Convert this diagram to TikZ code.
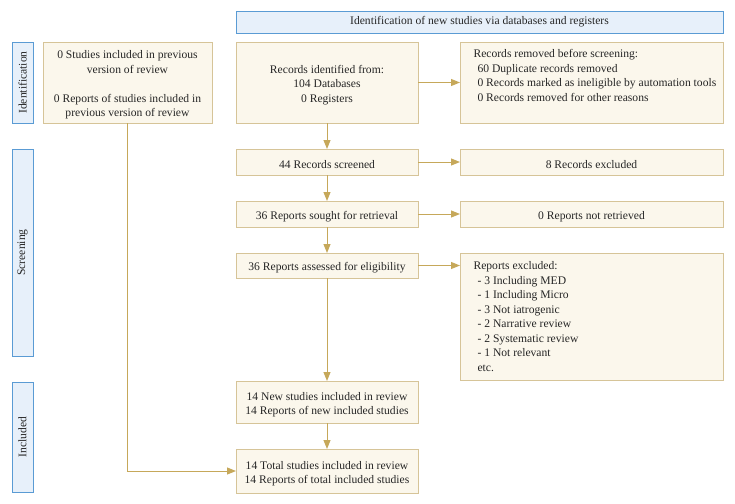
\documentclass[tikz,border=0pt]{standalone}
\usepackage{fontspec}
\setmainfont{Liberation Serif}
\usetikzlibrary{arrows.meta}
\definecolor{boxfill}{HTML}{FBF7EC}
\definecolor{boxline}{HTML}{D6C498}
\definecolor{arr}{HTML}{C6A85A}
\definecolor{bluefill}{HTML}{E7F0FA}
\definecolor{blueline}{HTML}{5A9BD4}
\newcommand{\upstrut}{\rule{0pt}{13pt}}
\tikzset{
  x=1pt, y=-1pt,
  txt/.style={font=\fontsize{11.6}{14.5}\selectfont, text=black!85},
  box/.style={txt, draw=boxline, fill=boxfill, line width=0.9pt, inner sep=0pt, outer sep=0pt, align=center},
  lbl/.style={txt, draw=blueline, fill=bluefill, line width=0.9pt, inner sep=0pt, outer sep=0pt, align=center},
  conn/.style={draw=arr, line width=1pt, -{Triangle[length=9pt,width=7pt]}}
}
% box from (x1,y1) to (x2,y2)
\newcommand{\mybox}[7]{\node[#1, minimum width={#4-#2}, minimum height={#5-#3}] (#6) at ({(#2+#4)/2},{(#3+#5)/2}) {#7};}
\begin{document}
\begin{tikzpicture}
\useasboundingbox (0,0) rectangle (735,503);
% banner
\mybox{lbl}{236}{11}{723}{33}{banner}{Identification of new studies via databases and registers}
% side labels
\mybox{lbl}{12}{42}{33}{123}{lid}{}
\node[txt, rotate=90] at (lid.center) {Identification};
\mybox{lbl}{12}{149}{33}{356}{lsc}{}
\node[txt, rotate=90] at (lsc.center) {Screening};
\mybox{lbl}{12}{382}{33}{492}{lin}{}
\node[txt, rotate=90] at (lin.center) {Included};
% boxes
\mybox{box}{43}{42}{212}{123}{prev}{\upstrut0 Studies included in previous\\version of review\\[14.5pt]0 Reports of studies included in\\previous version of review}
\mybox{box}{236}{42}{418}{123}{ident}{\upstrut Records identified from:\\104 Databases\\0 Registers}
\mybox{box}{460}{42}{723}{123}{removed}{}
\node[txt, anchor=north west, align=left] at ([xshift=10pt,yshift=-4pt]removed.north west) {Records removed before screening:\\\hspace*{4pt}60 Duplicate records removed\\\hspace*{4pt}0 Records marked as ineligible by automation tools\\\hspace*{4pt}0 Records removed for other reasons};
\mybox{box}{236}{149}{418}{175}{screened}{\upstrut 44 Records screened}
\mybox{box}{460}{149}{723}{175}{excl}{\upstrut 8 Records excluded}
\mybox{box}{236}{201}{418}{227}{sought}{\upstrut 36 Reports sought for retrieval}
\mybox{box}{460}{201}{723}{227}{notret}{\upstrut 0 Reports not retrieved}
\mybox{box}{236}{253}{418}{278}{assessed}{\upstrut 36 Reports assessed for eligibility}
\mybox{box}{460}{253}{723}{380}{repexcl}{}
\node[txt, anchor=north west, align=left] at ([xshift=10pt,yshift=-5pt]repexcl.north west) {Reports excluded:\\\hspace*{4pt}- 3 Including MED\\\hspace*{4pt}- 1 Including Micro\\\hspace*{4pt}- 3 Not iatrogenic\\\hspace*{4pt}- 2 Narrative review\\\hspace*{4pt}- 2 Systematic review\\\hspace*{4pt}- 1 Not relevant\\\hspace*{4pt}etc.};
\mybox{box}{236}{381}{418}{423}{newinc}{\upstrut 14 New studies included in review\\14 Reports of new included studies}
\mybox{box}{236}{449}{418}{493}{total}{\upstrut 14 Total studies included in review\\14 Reports of total included studies}
% connectors
\draw[conn] (ident) -- (removed);
\draw[conn] (ident) -- (screened);
\draw[conn] (screened) -- (excl);
\draw[conn] (screened) -- (sought);
\draw[conn] (sought) -- (notret);
\draw[conn] (sought) -- (assessed);
\draw[conn] (assessed.east) -- (repexcl.west |- assessed.east);
\draw[conn] (assessed) -- (newinc);
\draw[conn] (newinc) -- (total);
\coordinate (corner) at (prev.south |- total.west);
\draw[conn] (prev.south) -- (corner) -- (total.west);
\end{tikzpicture}
\end{document}
